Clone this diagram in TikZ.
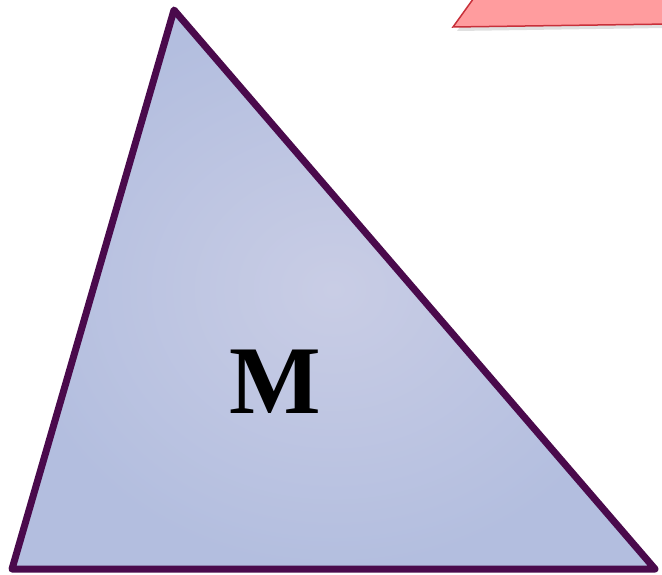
\documentclass[tikz,border=0pt]{standalone}
\usepackage{fontspec}
\setmainfont{Liberation Serif}
\usepackage{xcolor}
\usepackage{tikz}
\usetikzlibrary{positioning}

\definecolor{triborder}{HTML}{4A0A4C}
\definecolor{triin}{HTML}{C9CDE5}
\definecolor{triout}{HTML}{B3BEDF}
\definecolor{redfill}{HTML}{FF9C9E}
\definecolor{redborder}{HTML}{C8303A}

\begin{document}
\begin{tikzpicture}[x=1pt, y=-1pt,
    tri/.style={draw=triborder, line width=7pt, line join=round, inner color=triin, outer color=triout},
    slab/.style={draw=redborder, line width=1.5pt, fill=redfill},
    label/.style={font=\bfseries\fontsize{97}{97}\selectfont, text=black}]

    \useasboundingbox (0,0) rectangle (662,575);

    % red shape at the top right
    \fill [black!12] (457,31) -- (666,28) -- (666,0) -- (480,0) -- cycle;
    \path [slab] (453,27) -- (670,24) -- (670,-5) -- (476,-5) -- cycle;

    % triangle
    \coordinate (top) at (174,10);
    \coordinate (left) at (12,569);
    \coordinate (right) at (655,569);
    \path [tri] (top) -- (right) -- (left) -- cycle;

    \node [label] (m) at (275,382) {M};
\end{tikzpicture}
\end{document}
